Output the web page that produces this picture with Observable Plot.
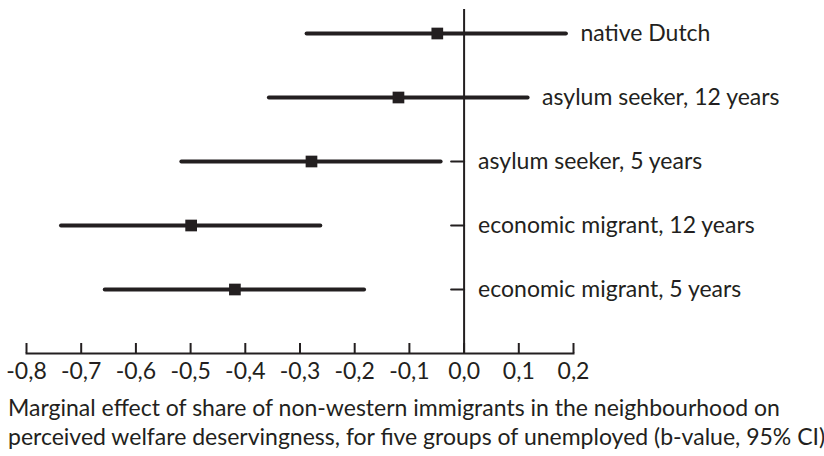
<!DOCTYPE html>
<html>
<head>
<meta charset="utf-8">
<script src="https://cdn.jsdelivr.net/npm/d3@7"></script>
<script src="https://cdn.jsdelivr.net/npm/@observablehq/plot@0.6"></script>
<style>
  body { margin: 0; background: #fff; font-family: Lato, "Open Sans", sans-serif; color: #231f20; }
  #caption { margin: 0 0 0 8px; font-size: 23px; line-height: 29px; padding-top: 0px; margin-top: -2px; white-space: nowrap; }
</style>
</head>
<body>
<div id="chart"></div>
<div id="caption">Marginal effect of share of non-western immigrants in the neighbourhood on<br>perceived welfare deservingness, for five groups of unemployed (b-value, 95% CI)</div>
<script>
const groups = ["native Dutch", "asylum seeker, 12 years", "asylum seeker, 5 years", "economic migrant, 12 years", "economic migrant, 5 years"];
const estimates = [-0.049, -0.120, -0.279, -0.499, -0.419];
const lower = [-0.287, -0.356, -0.516, -0.736, -0.656];
const upper = [0.187, 0.117, -0.042, -0.262, -0.182];
const xTicks = [-0.8, -0.7, -0.6, -0.5, -0.4, -0.3, -0.2, -0.1, 0.0, 0.1, 0.2];

const data = groups.map((g, i) => ({group: g, est: estimates[i], lo: lower[i], hi: upper[i]}));
const ink = "#231f20";
const lineShape = { draw(context, l) { context.moveTo(0, 0); context.lineTo(0, -l); } };
const fmt = d => d.toFixed(1).replace(".", ",");

const chart = Plot.plot({
  width: 824,
  height: 395,
  marginTop: 9,
  marginBottom: 42,
  marginLeft: 26,
  marginRight: 251,
  style: { fontFamily: "Lato, 'Open Sans', sans-serif", fontSize: "23px", color: ink, background: "#fff" },
  x: { domain: [-0.8, 0.2] },
  y: { type: "point", domain: groups, range: [32, 289.3], padding: 0, axis: null },
  marks: [
    Plot.frame({ anchor: "bottom", stroke: ink, strokeWidth: 2 }),
    Plot.ruleX(xTicks, { x: d => d, stroke: ink, strokeWidth: 2, insetTop: 334 }),
    Plot.ruleX([0], { stroke: ink, strokeWidth: 2 }),
    Plot.vector(data, { x: () => 0, y: "group", rotate: -90, length: 13, anchor: "start", shape: lineShape, stroke: ink, strokeWidth: 2 }),
    Plot.ruleY(data, { y: "group", x1: "lo", x2: "hi", stroke: ink, strokeWidth: 4, strokeLinecap: "round" }),
    Plot.dot(data, { x: "est", y: "group", symbol: "square", r: 6.6, fill: ink, stroke: "none" }),
    Plot.text(data, { x: d => Math.max(0, d.hi), y: "group", text: "group", dx: 14, textAnchor: "start", fill: ink, fontSize: 23 }),
    Plot.axisX(xTicks, { tickSize: 0, tickPadding: 9, tickFormat: fmt, fontSize: 23, fill: ink, label: null })
  ]
});
document.getElementById("chart").appendChild(chart);
</script>
</body>
</html>
